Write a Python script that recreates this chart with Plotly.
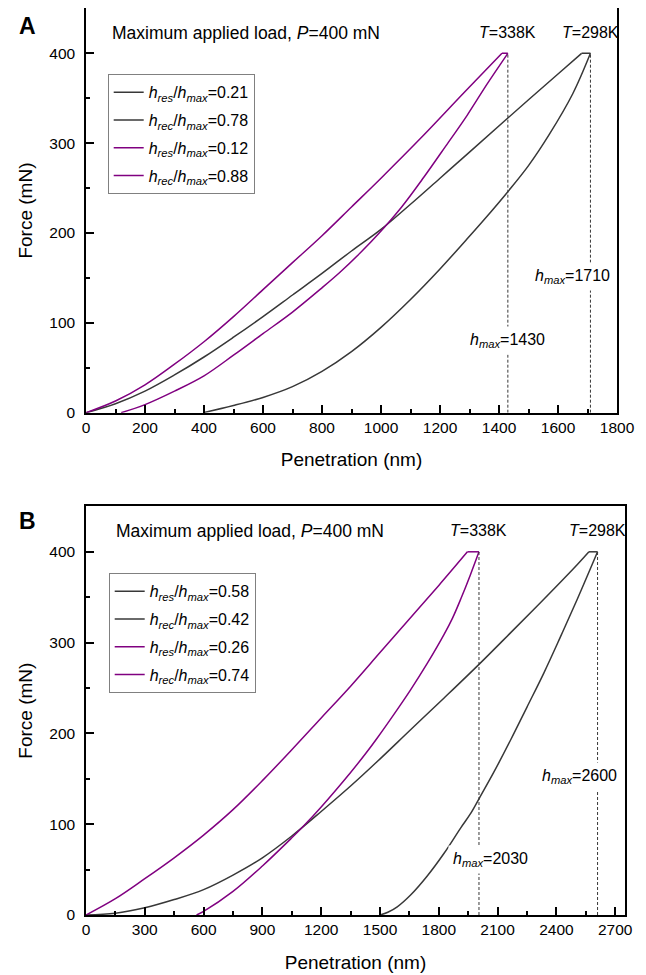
import plotly.graph_objects as go

W, H = 646, 975
OFF = 8  # page body margin of the browser
WF, HF = W - OFF, H - OFF
FONT = "Liberation Sans, Arial, Helvetica, sans-serif"
BLACK = "#383838"
PURPLE = "#800080"
P_MAX = 400

# ---------------- Panel A data ----------------
A_load298_h = [0, 100, 200, 300, 400, 500, 600, 700, 800, 900, 1000, 1100, 1200, 1300, 1430, 1600, 1680]
A_load298_P = [0, 10, 24, 42, 62, 84, 107, 131, 155, 180, 204, 232, 261, 290, 328, 377, 400]
A_unl298_h = [1710, 1650, 1571, 1500, 1430, 1350, 1288, 1200, 1100, 1000, 900, 800, 700, 600, 500, 397]
A_unl298_P = [400, 355, 310, 275, 246, 215, 192, 160, 126, 95, 68, 46, 29, 17, 8, 0]
A_load338_h = [0, 100, 200, 300, 400, 500, 600, 700, 800, 900, 1000, 1145, 1281, 1410]
A_load338_P = [0, 13, 31, 54, 79, 107, 137, 167, 197, 229, 261, 309, 356, 400]
A_unl338_h = [1430, 1360, 1292, 1220, 1145, 1070, 994, 930, 860, 800, 700, 600, 500, 400, 300, 200, 119]
A_unl338_P = [400, 366, 331, 297, 262, 229, 200, 178, 156, 139, 112, 88, 64, 41, 24, 9, 0]
A_hmax = [1710, 1430]
A_hmax_labels = ["1710", "1430"]
A_temps = ["298K", "338K"]
A_names = ["=0.21", "=0.78", "=0.12", "=0.88"]

# ---------------- Panel B data ----------------
B_load298_h = [0, 150, 300, 450, 600, 750, 900, 1050, 1200, 1350, 1486, 1656, 1827, 2005, 2167, 2337, 2507, 2566]
B_load298_P = [0, 2, 8, 17, 28, 44, 63, 87, 114, 142, 169, 204, 239, 276, 311, 348, 386, 400]
B_unl298_h = [2610, 2507, 2420, 2337, 2250, 2167, 2080, 2005, 1960, 1912, 1827, 1741, 1656, 1588, 1540, 1500]
B_unl298_P = [400, 348, 306, 267, 229, 193, 157, 128, 111, 96, 68, 43, 22, 9, 3, 0]
B_load338_h = [0, 150, 300, 450, 600, 750, 900, 1050, 1200, 1350, 1500, 1650, 1800, 1946]
B_load338_P = [0, 18, 40, 63, 88, 116, 148, 182, 217, 252, 289, 326, 363, 400]
B_unl338_h = [2005, 1960, 1912, 1870, 1827, 1741, 1656, 1571, 1486, 1424, 1350, 1200, 1110, 1050, 900, 750, 600, 564]
B_unl338_P = [400, 374, 348, 327, 309, 277, 248, 221, 195, 177, 157, 119, 98, 85, 54, 26, 4, 0]
B_hmax = [2610, 2005]
B_hmax_labels = ["2600", "2030"]
B_temps = ["298K", "338K"]
B_names = ["=0.58", "=0.42", "=0.26", "=0.74"]

RES = "<i>h</i><sub><i>res</i></sub>/<i>h</i><sub><i>max</i></sub>"
REC = "<i>h</i><sub><i>rec</i></sub>/<i>h</i><sub><i>max</i></sub>"
HMAX = "<i>h</i><sub><i>max</i></sub>="


def px_x(p):
    return (p - OFF) / WF


def px_y(p):
    return 1 - (p - OFF) / HF


fig = go.Figure()


def add_panel(xa, ya, leg, curves, names, hmax):
    colors = [BLACK, BLACK, PURPLE, PURPLE]
    prefixes = [RES, REC, RES, REC]
    for i, ((hx, py), c, pre, nm) in enumerate(zip(curves, colors, prefixes, names)):
        fig.add_trace(go.Scatter(
            x=hx, y=py, mode="lines", name=pre + nm, legendgroup=leg + str(i),
            line=dict(color=c, width=1.5, shape="spline", smoothing=1.0),
            xaxis=xa, yaxis=ya, legend=leg, hoverinfo="skip"))
    # flat hold segment at the maximum load (end of loading -> start of unloading)
    for (lh, lp), (uh, up), c in [(curves[0], curves[1], BLACK), (curves[2], curves[3], PURPLE)]:
        fig.add_trace(go.Scatter(
            x=[lh[-1], uh[0]], y=[lp[-1], up[0]], mode="lines", showlegend=False,
            line=dict(color=c, width=1.5), xaxis=xa, yaxis=ya, hoverinfo="skip"))
    for h in hmax:
        fig.add_trace(go.Scatter(
            x=[h, h], y=[0, P_MAX], mode="lines", showlegend=False,
            line=dict(color=BLACK, width=1, dash="3px,2px"),
            xaxis=xa, yaxis=ya, hoverinfo="skip"))


add_panel("x", "y", "legend",
          [(A_load298_h, A_load298_P), (A_unl298_h, A_unl298_P),
           (A_load338_h, A_load338_P), (A_unl338_h, A_unl338_P)],
          A_names, A_hmax)
add_panel("x2", "y2", "legend2",
          [(B_load298_h, B_load298_P), (B_unl298_h, B_unl298_P),
           (B_load338_h, B_load338_P), (B_unl338_h, B_unl338_P)],
          B_names, B_hmax)


def xaxis(dom, rng, dtick, mdtick, anchor):
    return dict(domain=dom, range=rng, dtick=dtick, tick0=0, ticks="inside",
                ticklen=8, tickwidth=1.5, tickcolor="black",
                showline=True, linecolor="black", linewidth=1.5, mirror=True,
                showgrid=False, zeroline=False, anchor=anchor, automargin=False,
                minor=dict(ticks="inside", ticklen=4, dtick=mdtick, tickwidth=1.5,
                           tickcolor="black", showgrid=False),
                tickfont=dict(size=15.5, color="black"),
                title=dict(text="Penetration (nm)", font=dict(size=19, color="black"), standoff=18))


def yaxis(dom, anchor):
    return dict(domain=dom, range=[0, 450], dtick=100, tick0=0, ticks="inside",
                ticklen=8, tickwidth=1.5, tickcolor="black",
                showline=True, linecolor="black", linewidth=1.5, mirror=True,
                showgrid=False, zeroline=False, anchor=anchor, automargin=False,
                minor=dict(ticks="inside", ticklen=4, dtick=50, tickwidth=1.5,
                           tickcolor="black", showgrid=False),
                tickfont=dict(size=15.5, color="black"), ticklabelstandoff=6,
                title=dict(text="Force (mN)", font=dict(size=19, color="black"), standoff=12))


legend_style = dict(bgcolor="white", bordercolor="#808080", borderwidth=1,
                    font=dict(size=16, color="black", family=FONT),
                    xanchor="left", yanchor="top", tracegroupgap=4,
                    itemwidth=30)

annotations = []


def panel_annots(xref, yref, hmax, labels, temps, load_x_px, letter, letter_y_px, lab_pos):
    annotations.append(dict(xref="paper", yref=yref, x=px_x(load_x_px), y=423,
                            xanchor="left", yanchor="middle", showarrow=False,
                            text="Maximum applied load, <i>P</i>=400 mN",
                            font=dict(size=17.5, color="black")))
    for h, t in zip(hmax, temps):
        annotations.append(dict(xref=xref, yref=yref, x=h, y=423, xanchor="center",
                                yanchor="middle", showarrow=False,
                                text="<i>T</i>=" + t, font=dict(size=16, color="black")))
    for h, lab, (dx, yv) in zip(hmax, labels, lab_pos):
        annotations.append(dict(xref=xref, yref=yref, x=h, y=yv, xshift=dx,
                                xanchor="center", yanchor="middle", showarrow=False,
                                text=HMAX + lab, bgcolor="white", borderpad=4,
                                font=dict(size=16, color="black")))
    annotations.append(dict(xref="paper", yref="paper", x=px_x(27), y=px_y(letter_y_px),
                            xanchor="center", yanchor="middle", showarrow=False,
                            text="<b>" + letter + "</b>", font=dict(size=23, color="black")))


panel_annots("x", "y", A_hmax, A_hmax_labels, A_temps, 110, "A", 26, [(-18, 152), (0, 80)])
panel_annots("x2", "y2", B_hmax, B_hmax_labels, B_temps, 114, "B", 521, [(-18, 152), (12, 61)])

fig.update_layout(
    width=WF, height=HF,
    margin=dict(l=0, r=0, t=0, b=0),
    paper_bgcolor="white", plot_bgcolor="white",
    font=dict(family=FONT, color="black"),
    xaxis=xaxis([px_x(86), px_x(617)], [0, 1800], 200, 100, "y"),
    yaxis=yaxis([px_y(412.7), px_y(8.4)], "x"),
    xaxis2=xaxis([px_x(86), px_x(625)], [0, 2750], 300, 150, "y2"),
    yaxis2=yaxis([px_y(915), px_y(506.4)], "x2"),
    legend=dict(x=px_x(107.7), y=px_y(74.3), **legend_style),
    legend2=dict(x=px_x(108.7), y=px_y(573.3), **legend_style),
    annotations=annotations,
    showlegend=True,
)

fig.write_html("out.html")
